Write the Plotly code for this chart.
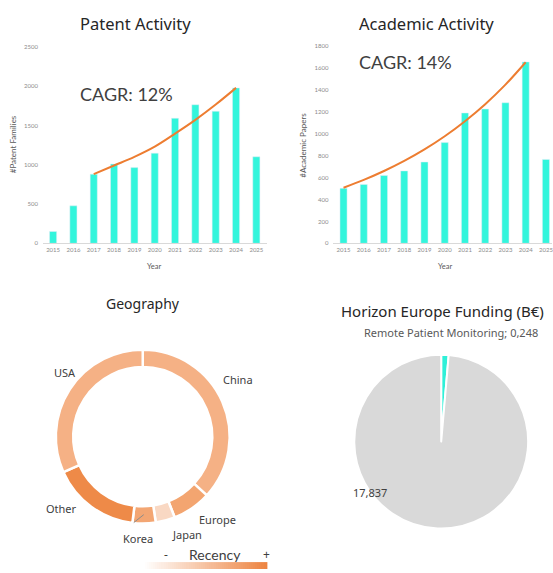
import plotly.graph_objects as go

# ---- data ----
years = ["2015", "2016", "2017", "2018", "2019", "2020", "2021", "2022", "2023", "2024", "2025"]
patent_families = [151, 477, 880, 1009, 963, 1147, 1591, 1763, 1679, 1977, 1101]
patent_trend_years = ["2017", "2018", "2019", "2020", "2021", "2022", "2023", "2024"]
patent_trend = [880, 990, 1100, 1230, 1395, 1570, 1765, 1977]

academic_papers = [501, 537, 618, 660, 741, 918, 1188, 1224, 1281, 1653, 765]
academic_trend_years = ["2015", "2016", "2017", "2018", "2019", "2020", "2021", "2022", "2023", "2024"]
academic_trend = [507, 578, 659, 751, 856, 976, 1113, 1268, 1446, 1650]

regions = ["China", "Europe", "Japan", "Korea", "Other", "USA"]
region_share = [36.8, 7.2, 3.6, 4.3, 16.4, 31.7]
region_colors = ["#F5B185", "#F3A570", "#F9D8C3", "#F3A673", "#EE8A48", "#F5B185"]

funding_labels = ["Remote Patient Monitoring", "Other"]
funding_values = [0.248, 17.837]

W, H = 553, 573
BAR = "#33F5DC"
TREND = "#ED7D31"
TXT = "#404040"
TICK = "#8C8C8C"


def px(x):
    return x / W


def py(y):
    return (H - y) / H


def eu(v):
    return f"{v:.3f}".replace(".", ",")


fig = go.Figure()

# Patent bars + trend
fig.add_trace(go.Bar(x=years, y=patent_families, marker_color=BAR, width=0.35,
                     xaxis="x", yaxis="y", showlegend=False))
fig.add_trace(go.Scatter(x=patent_trend_years, y=patent_trend, mode="lines",
                         line=dict(color=TREND, width=2, shape="spline"),
                         xaxis="x", yaxis="y", showlegend=False))

# Academic bars + trend
fig.add_trace(go.Bar(x=years, y=academic_papers, marker_color=BAR, width=0.35,
                     xaxis="x2", yaxis="y2", showlegend=False))
fig.add_trace(go.Scatter(x=academic_trend_years, y=academic_trend, mode="lines",
                         line=dict(color=TREND, width=2, shape="spline"),
                         xaxis="x2", yaxis="y2", showlegend=False))

# Geography donut
fig.add_trace(go.Pie(labels=regions, values=region_share, hole=0.8, sort=False,
                     direction="clockwise", rotation=0, textinfo="none",
                     marker=dict(colors=region_colors, line=dict(color="white", width=2.5)),
                     domain=dict(x=[px(55), px(231)], y=[py(526), py(350)]),
                     showlegend=False, hoverinfo="label+percent"))

# Funding pie
fig.add_trace(go.Pie(labels=funding_labels, values=funding_values, sort=False,
                     direction="clockwise", rotation=0, textinfo="none",
                     marker=dict(colors=["#2FF0D8", "#D9D9D9"], line=dict(color="white", width=2)),
                     domain=dict(x=[px(354), px(530)], y=[py(531), py(355)]),
                     showlegend=False))

# Recency gradient
fig.add_trace(go.Heatmap(z=[list(range(60))], colorscale=[[0, "#FFFFFF"], [1, "#ED8441"]],
                         showscale=False, xaxis="x3", yaxis="y3", hoverinfo="skip"))

tickfont = dict(family="Lato", size=6, color=TICK)
common_x = dict(type="category", showgrid=False, zeroline=False, showline=True,
                linecolor="#D9D9D9", linewidth=1, ticks="", tickfont=tickfont)
common_y = dict(showgrid=False, zeroline=False, showline=False, ticks="",
                tickfont=tickfont, ticklabelstandoff=4)

fig.update_layout(
    width=W, height=H, margin=dict(l=0, r=0, t=0, b=0),
    paper_bgcolor="white", plot_bgcolor="white", bargap=0.65,
    xaxis=dict(domain=[px(43), px(267)], range=[-0.5, 10.5], anchor="y", **common_x),
    yaxis=dict(domain=[py(242.3), py(43.3)], range=[0, 2500], dtick=500, anchor="x", **common_y),
    xaxis2=dict(domain=[px(334), 1.0], range=[-0.5, 10.3], anchor="y2", **common_x),
    yaxis2=dict(domain=[py(242.3), py(42.3)], range=[0, 1800], dtick=200, anchor="x2", **common_y),
    xaxis3=dict(domain=[px(143), px(268)], visible=False, anchor="y3"),
    yaxis3=dict(domain=[py(572), py(565)], visible=False, anchor="x3"),
)

ann = []


def label(x, y, text, size, color=TXT, family="Noto Sans", angle=0):
    ann.append(dict(x=px(x), y=py(y), xref="paper", yref="paper", text=text,
                    showarrow=False, xanchor="center", yanchor="middle", textangle=angle,
                    font=dict(family=family, size=size, color=color)))


label(136, 20, "Patent Activity", 16.5, color="#262626")
label(427, 20, "Academic Activity", 16.5, color="#262626")
label(127, 91, "CAGR: 12%", 18, family="Lato")
label(406, 59, "CAGR: 14%", 18, family="Lato")
label(13, 142, "#Patent Families", 8, color="#595959", family="Lato", angle=-90)
label(304, 143, "#Academic Papers", 8, color="#595959", family="Lato", angle=-90)
label(155, 266, "Year", 7.5, color="#595959", family="Lato")
label(446, 266, "Year", 7.5, color="#595959", family="Lato")

label(143, 303, "Geography", 14, color="#262626")
label(65, 373, "USA", 11)
label(238, 380, "China", 11)
label(62, 511, "Other", 11)
label(138, 541, "Korea", 11)
label(187, 537, "Japan", 11)
label(218, 522, "Europe", 11)
label(166, 557, "-", 12)
label(215, 557, "Recency", 14, family="Lato")
label(267, 557, "+", 12)

label(443, 311, "Horizon Europe Funding (B€)", 15, color="#262626")
label(452, 333, f"{funding_labels[0]}; {eu(funding_values[0])}", 11, color="#595959")
label(371, 495, eu(funding_values[1]), 11, color=TXT)

fig.update_layout(annotations=ann)

# Korea leader line
fig.add_shape(type="line", xref="paper", yref="paper",
              x0=px(134), y0=py(525), x1=px(144), y1=py(517),
              line=dict(color="#8C8C8C", width=1))

fig.write_html("out.html")
